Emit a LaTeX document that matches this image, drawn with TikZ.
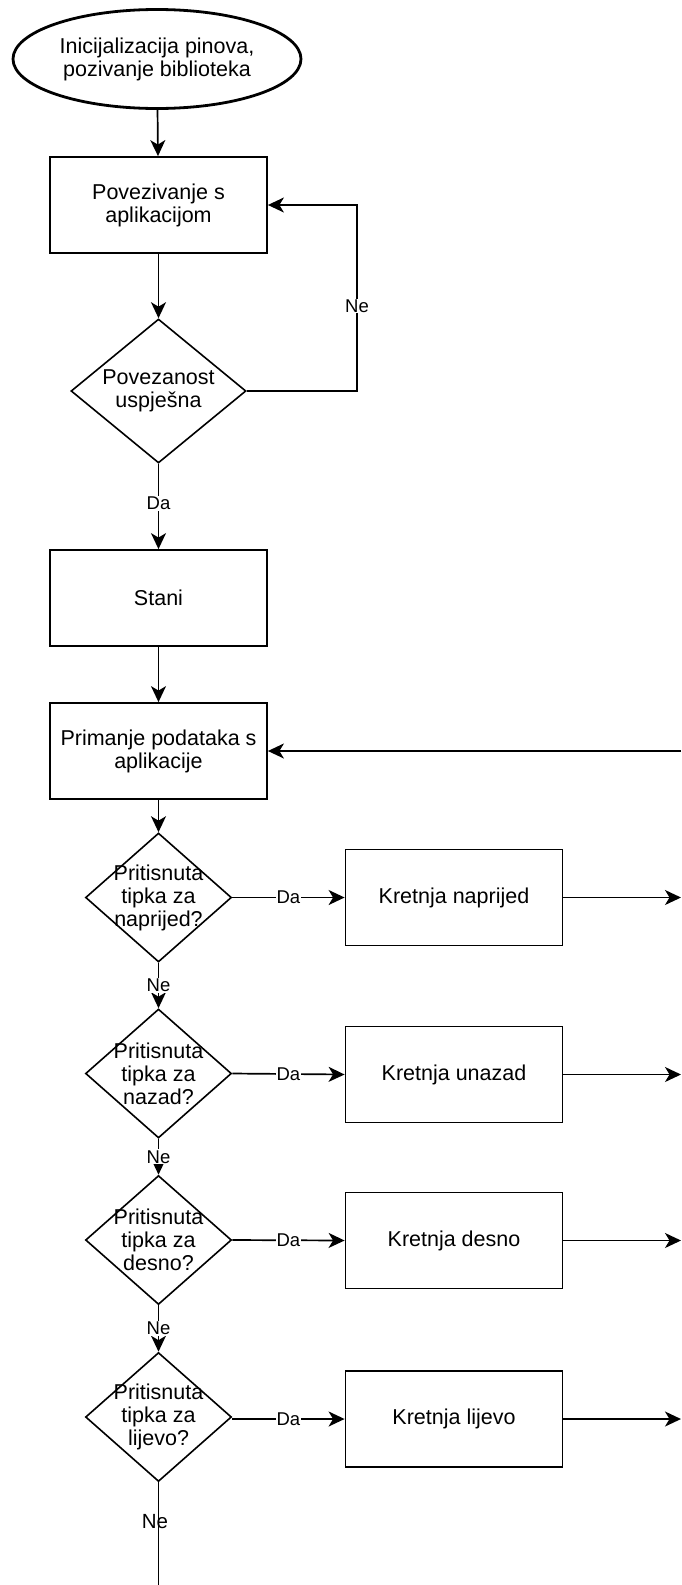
\documentclass[tikz,border=0pt]{standalone}
\usepackage{fontspec}
\setmainfont{Liberation Sans}
\usetikzlibrary{shapes.geometric,arrows.meta}
\begin{document}
\begin{tikzpicture}[x=1pt,y=-1pt,
  every node/.style={font=\fontsize{21.5}{23}\selectfont, align=center, inner sep=0pt},
  term/.style={ellipse, draw, line width=2.8pt, minimum width=288pt, minimum height=99pt},
  proc/.style={rectangle, draw, line width=1.8pt, minimum width=217pt, minimum height=96pt},
  dec/.style={diamond, draw, line width=1.6pt, minimum width=146pt, minimum height=129pt, inner sep=0pt},
  link/.style={line width=1.7pt, -{Stealth[length=16pt,width=15pt,inset=4.5pt]}},
  plain/.style={line width=1.7pt},
  lbl/.style={font=\fontsize{18.5}{20}\selectfont, fill=white, inner sep=1pt}]
\useasboundingbox (0,0) rectangle (681,1585);
% nodes
\node[term] (start) at (157,59) {Inicijalizacija pinova,\\pozivanje biblioteka};
\node[proc] (conn) at (158.5,205) {Povezivanje s\\aplikacijom};
\node[diamond, draw, line width=1.6pt, minimum width=175pt, minimum height=144pt, inner sep=0pt, label={center:Povezanost\\uspješna}] (ok) at (158.5,391) {};
\node[proc] (stani) at (158.5,598) {Stani};
\node[proc] (recv) at (158.5,751) {Primanje podataka s\\aplikacije};
\node[dec, label={center:Pritisnuta\\tipka za\\naprijed?}] (d1) at (158.5,897.5) {};
\node[dec, label={center:Pritisnuta\\tipka za\\nazad?}] (d2) at (158.5,1073.5) {};
\node[dec, label={center:Pritisnuta\\tipka za\\desno?}] (d3) at (158.5,1240) {};
\node[dec, label={center:Pritisnuta\\tipka za\\lijevo?}] (d4) at (158.5,1417) {};
\node[proc] (k1) at (454,897.5) {Kretnja naprijed};
\node[proc] (k2) at (454,1074.5) {Kretnja unazad};
\node[proc] (k3) at (454,1240.5) {Kretnja desno};
\node[proc] (k4) at (454,1419) {Kretnja lijevo};
% free ends
\coordinate (e1) at (681,897.5);
\coordinate (e2) at (681,1074.5);
\coordinate (e3) at (681,1240.5);
\coordinate (e4) at (681,1419);
\coordinate (ret) at (681,751);
\coordinate (bot) at (158.5,1585);
\coordinate (loop) at (357,391);
% connectors
\draw[link] (start) -- (conn);
\draw[link] (conn) -- (ok);
\draw[link] (ok.east) -- (loop) -- node[lbl, pos=0.457]{Ne} (loop |- conn.east) -- (conn.east);
\draw[link] (ok) -- node[lbl, pos=0.46]{Da} (stani);
\draw[link] (stani) -- (recv);
\draw[link] (ret) -- (recv.east);
\draw[link] (recv) -- (d1);
\draw[link] (d1) -- node[lbl]{Ne} (d2);
\draw[link] (d2) -- node[lbl]{Ne} (d3);
\draw[link] (d3) -- node[lbl]{Ne} (d4);
\draw[plain] (d4.south) -- (bot);
\node[font=\fontsize{20.5}{22}\selectfont] (nelast) at (155,1522) {Ne};
\draw[link] (d1.east) -- node[lbl, pos=0.5]{Da} (k1.west);
\draw[link] (d2.east) -- node[lbl, pos=0.5]{Da} (k2.west);
\draw[link] (d3.east) -- node[lbl, pos=0.5]{Da} (k3.west);
\draw[link] (d4.east |- k4.west) -- node[lbl, pos=0.5]{Da} (k4.west);
\draw[link] (k1.east) -- (e1);
\draw[link] (k2.east) -- (e2);
\draw[link] (k3.east) -- (e3);
\draw[link] (k4.east) -- (e4);
\end{tikzpicture}
\end{document}
